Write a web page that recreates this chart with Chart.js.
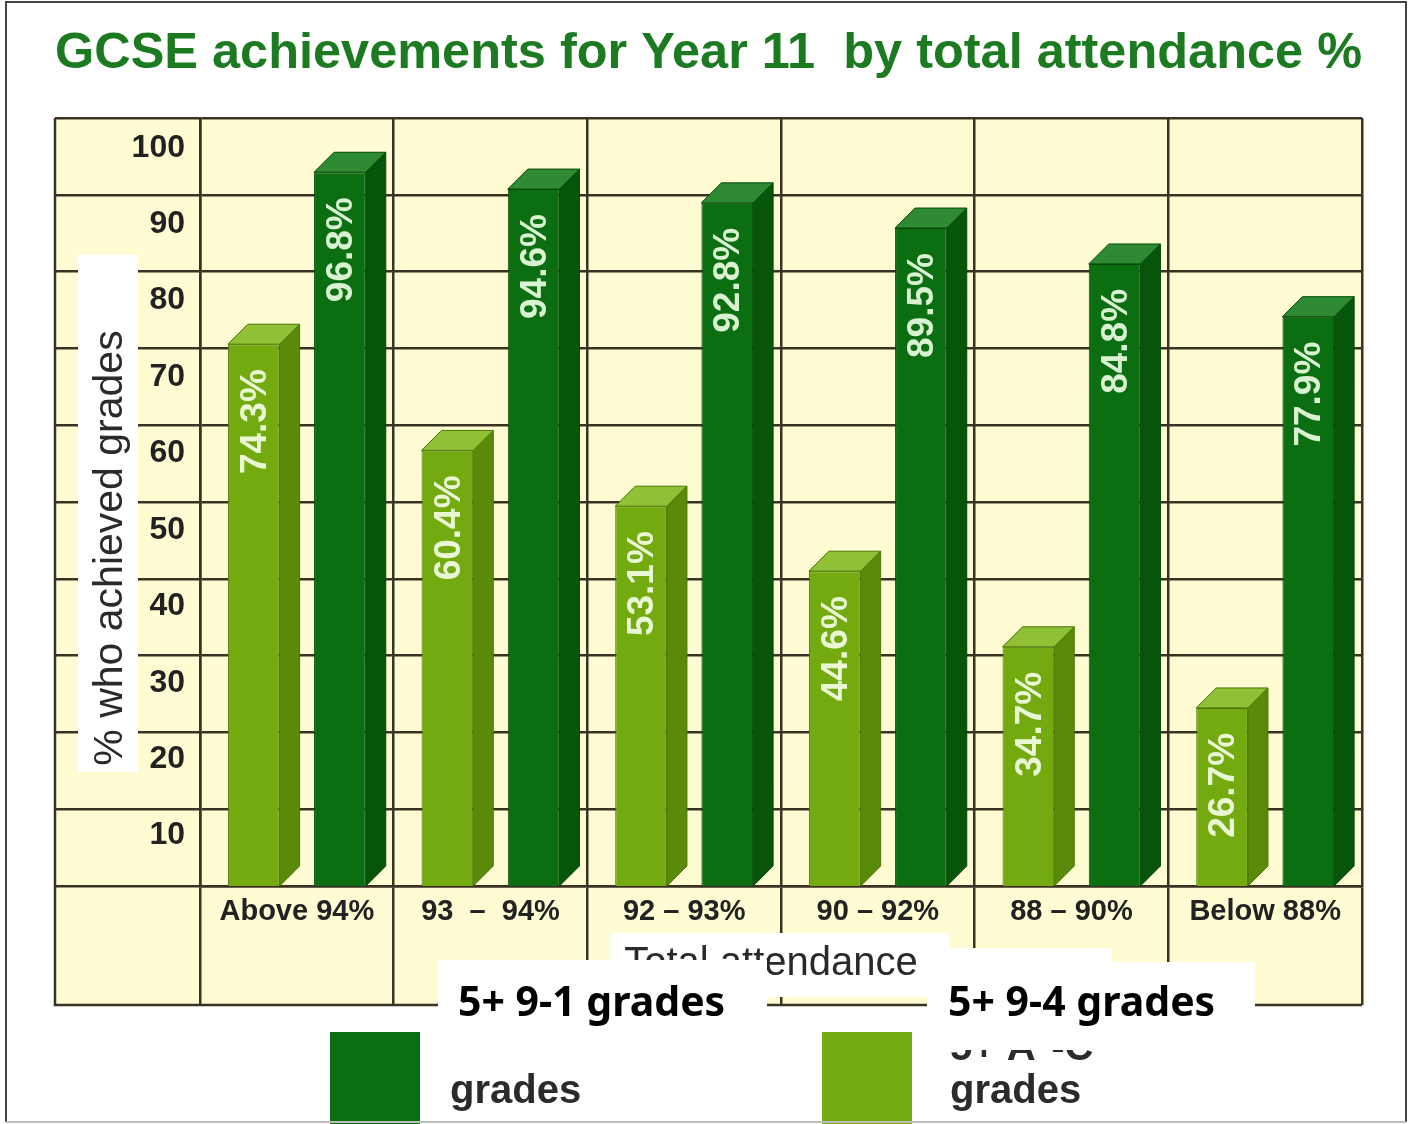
<!DOCTYPE html>
<html>
<head>
<meta charset="utf-8">
<title>GCSE achievements by attendance</title>
<script src="https://cdn.jsdelivr.net/npm/chart.js@4.4.1/dist/chart.umd.min.js"></script>
<style>
  html, body { margin: 0; padding: 0; background: #fff; }
  #grafico { display: block; }
</style>
</head>
<body>
<canvas id="grafico" width="1409" height="1124" style="width:1409px;height:1124px"></canvas>
<script>
// datos
const categorias = ["Above 94%", "93  –  94%", "92 – 93%", "90 – 92%", "88 – 90%", "Below 88%"];
const series = ["5+ 9-1 grades", "5+ 9-4 grades"];
const notas91 = [96.8, 94.6, 92.8, 89.5, 84.8, 77.9];
const notas94 = [74.3, 60.4, 53.1, 44.6, 34.7, 26.7];
const marcasY = [10, 20, 30, 40, 50, 60, 70, 80, 90, 100];
const leyendaVieja = ["5+ A*-C", "grades"];

const titulo = "GCSE achievements for Year 11  by total attendance %";
const tituloY = "% who achieved grades";
const tituloX = "Total attendance";

// rango del eje (la base del dibujo original queda bajo la linea del eje)
const yMin = 3.4, yMax = 103.9;

const fuente = '"Liberation Sans", Arial, sans-serif';
const fondoTabla = "#fffcd3";
const linea = "#3b3223";
const frentes = ["#0b6e10", "#73aa10"];
const lados = ["#06550a", "#5a8a0a"];
const tapas = ["#2f8b33", "#8fc036"];
const bordes = ["#05480a", "#4a7404"];
const PROF = 20;

const tabla = {
  id: 'tabla',
  beforeDraw(chart) {
    const ctx = chart.ctx, a = chart.chartArea;
    const yS = chart.scales.yl, xS = chart.scales.x;
    ctx.save();
    ctx.fillStyle = "#fff";
    ctx.fillRect(0, 0, chart.width, chart.height);
    ctx.fillStyle = fondoTabla;
    ctx.fillRect(yS.left, a.top, a.right - yS.left, xS.bottom - a.top);
    ctx.restore();
  },
  afterDatasetsDraw(chart) {
    const ctx = chart.ctx, a = chart.chartArea;
    ctx.save();
    chart.data.datasets.forEach((ds, di) => {
      const k = di === 0 ? 1 : 0; // 0 oscuro, 1 claro
      const meta = chart.getDatasetMeta(di);
      meta.data.forEach((bar, i) => {
        const p = bar.getProps(['x', 'y', 'base', 'width'], true);
        const l = p.x - p.width / 2, r = p.x + p.width / 2;
        const b = Math.min(p.base, a.bottom);
        ctx.lineWidth = 1;
        ctx.strokeStyle = bordes[k];
        // lado
        ctx.fillStyle = lados[k];
        ctx.beginPath();
        ctx.moveTo(r, p.y);
        ctx.lineTo(r + PROF, p.y - PROF);
        ctx.lineTo(r + PROF, b - PROF);
        ctx.lineTo(r, b);
        ctx.closePath();
        ctx.fill(); ctx.stroke();
        // tapa
        ctx.fillStyle = tapas[k];
        ctx.beginPath();
        ctx.moveTo(l, p.y);
        ctx.lineTo(l + PROF, p.y - PROF);
        ctx.lineTo(r + PROF, p.y - PROF);
        ctx.lineTo(r, p.y);
        ctx.closePath();
        ctx.fill(); ctx.stroke();
        // valor
        ctx.save();
        ctx.translate(p.x + 2, p.y + 25);
        ctx.rotate(-Math.PI / 2);
        ctx.fillStyle = k === 0 ? "#d9f2d2" : "#eaf7d4";
        ctx.font = "bold 37px " + fuente;
        ctx.textAlign = "right";
        ctx.textBaseline = "middle";
        ctx.fillText(ds.data[i].toFixed(1) + "%", 0, 0);
        ctx.restore();
      });
    });
    ctx.restore();
  },
  afterDraw(chart) {
    const ctx = chart.ctx, a = chart.chartArea;
    const yS = chart.scales.yl, xS = chart.scales.x;
    ctx.save();
    // bordes izquierdo e inferior de la tabla
    ctx.strokeStyle = linea;
    ctx.lineWidth = 2.5;
    ctx.beginPath();
    ctx.moveTo(yS.left, a.top);
    ctx.lineTo(yS.left, xS.bottom);
    ctx.lineTo(a.right, xS.bottom);
    ctx.stroke();

    // titulo del eje y sobre parche blanco
    ctx.fillStyle = "#fff";
    ctx.fillRect(78, 255, 60, 517);
    ctx.save();
    ctx.translate(111, 548);
    ctx.rotate(-Math.PI / 2);
    ctx.fillStyle = "#2a2a2a";
    ctx.font = "41px " + fuente;
    ctx.textAlign = "center";
    ctx.textBaseline = "middle";
    ctx.fillText(tituloY, 0, 0);
    ctx.restore();

    // titulo del eje x
    ctx.fillStyle = "#fff";
    ctx.fillRect(610, 933, 340, 64);
    ctx.fillStyle = "#2a2a2a";
    ctx.font = "40px " + fuente;
    ctx.textAlign = "center";
    ctx.textBaseline = "alphabetic";
    ctx.fillText(tituloX, 771, 975);

    // leyenda original
    const cajas = [[330, 450], [822, 950]];
    cajas.forEach((c, k) => {
      ctx.fillStyle = frentes[k];
      ctx.fillRect(c[0], 1032, 90, 92);
      ctx.fillStyle = "#2b2b2b";
      ctx.font = "bold 40px " + fuente;
      ctx.textAlign = "left";
      ctx.fillText(leyendaVieja[0], c[1], 1060);
      ctx.fillText(leyendaVieja[1], c[1], 1103);
    });

    // etiquetas nuevas pegadas encima
    ctx.fillStyle = "#fff";
    ctx.fillRect(438, 960, 329, 102);
    ctx.fillRect(927, 948, 185, 102);
    ctx.fillRect(1112, 962, 143, 88);
    ctx.fillStyle = "#000";
    ctx.font = 'bold 41px "Noto Sans", "Open Sans", sans-serif';
    ctx.fillText(series[0], 458, 1016);
    ctx.fillText(series[1], 948, 1016);

    // marco de la imagen
    ctx.lineWidth = 2;
    ctx.strokeStyle = "#444";
    ctx.beginPath();
    ctx.moveTo(6, 1122); ctx.lineTo(6, 2); ctx.lineTo(1406, 2); ctx.lineTo(1406, 1122);
    ctx.stroke();
    ctx.strokeStyle = "#bdbdbd";
    ctx.beginPath();
    ctx.moveTo(6, 1122); ctx.lineTo(1406, 1122);
    ctx.stroke();
    ctx.restore();
  }
};

const ctx = document.getElementById("grafico").getContext("2d");
const chart = new Chart(ctx, {
  type: "bar",
  plugins: [tabla],
  data: {
    labels: categorias,
    datasets: [
      { label: series[1], data: notas94, backgroundColor: frentes[1], borderColor: bordes[1],
        borderWidth: 1, clip: 0, categoryPercentage: 0.89, barPercentage: 0.6, yAxisID: "y" },
      { label: series[0], data: notas91, backgroundColor: frentes[0], borderColor: bordes[0],
        borderWidth: 1, clip: 0, categoryPercentage: 0.89, barPercentage: 0.6, yAxisID: "y" }
    ]
  },
  options: {
    responsive: false,
    animation: false,
    layout: { padding: { left: 55, right: 47, top: 0, bottom: 119 } },
    plugins: {
      legend: { display: false },
      tooltip: { enabled: false },
      title: {
        display: true,
        text: titulo,
        color: "#1c7a20",
        font: { family: fuente, size: 50.5, weight: "bold" },
        padding: { top: 24, bottom: 33.4 }
      }
    },
    scales: {
      x: {
        offset: true,
        grid: { color: linea, lineWidth: 2.5, tickLength: 119, offset: true },
        border: { color: linea, width: 2.5 },
        ticks: {
          color: "#222", padding: -110, maxRotation: 0, autoSkip: false,
          font: { family: fuente, size: 29, weight: "bold" }
        },
        afterFit(s) { s.height = 119; }
      },
      // eje de la reticula, pegado al area del grafico
      y: {
        position: "left",
        weight: 0,
        min: yMin, max: yMax,
        ticks: { display: false, count: 11 },
        grid: { color: linea, lineWidth: 2.5, tickLength: 145 },
        border: { color: linea, width: 2.5 },
        afterFit(s) { s.width = 0; }
      },
      // eje de las etiquetas 10..100
      yl: {
        position: "left",
        weight: 1,
        min: yMin, max: yMax,
        grid: { display: false, drawTicks: false },
        border: { display: false },
        ticks: {
          color: "#222", padding: 15, autoSkip: false,
          font: { family: fuente, size: 32, weight: "bold" }
        },
        afterBuildTicks(s) { s.ticks = marcasY.map(v => ({ value: v })); },
        afterFit(s) { s.width = 145; }
      }
    }
  }
});
</script>
</body>
</html>
